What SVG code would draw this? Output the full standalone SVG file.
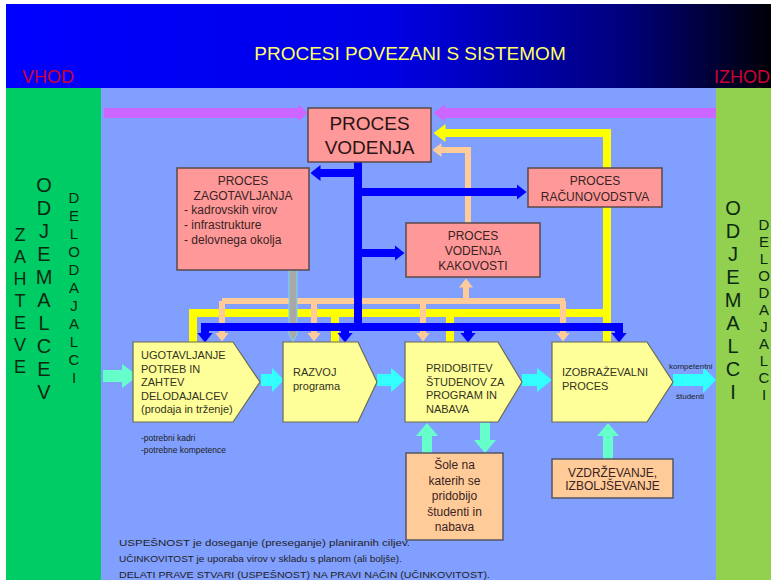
<svg xmlns="http://www.w3.org/2000/svg" width="771" height="580" viewBox="0 0 771 580">
<defs>
<linearGradient id="hdr" x1="0" y1="0" x2="1" y2="0">
<stop offset="0" stop-color="#0000ff"/>
<stop offset="0.5" stop-color="#0000e6"/>
<stop offset="0.8" stop-color="#000080"/>
<stop offset="1" stop-color="#000008"/>
</linearGradient>
<marker id="mB" markerUnits="userSpaceOnUse" viewBox="0 0 10 16" markerWidth="10" markerHeight="16" refX="0.5" refY="8" orient="auto"><path d="M0,0 L10,8 L0,16 z" fill="#0000ff"/></marker>
<marker id="mY" markerUnits="userSpaceOnUse" viewBox="0 0 12 18" markerWidth="12" markerHeight="18" refX="0.5" refY="9" orient="auto"><path d="M0,0 L12,9 L0,18 z" fill="#ffff00"/></marker>
<marker id="mP" markerUnits="userSpaceOnUse" viewBox="0 0 9 14" markerWidth="9" markerHeight="14" refX="0.5" refY="7" orient="auto"><path d="M0,0 L9,7 L0,14 z" fill="#ffcc99"/></marker>
</defs>
<style>
text{font-family:"Liberation Sans",Arial,sans-serif;}
.sal{fill:#ff9999;stroke:#5a4a4a;stroke-width:1.5;}
.yel{fill:#ffff99;stroke:#6a6a50;stroke-width:1.2;}
.pch{fill:#ffcc99;stroke:#555566;stroke-width:1.5;}
.st{fill:#3a2222;font-size:12px;}
.pt{fill:#333322;font-size:11px;}
.side{fill:#0a2a10;text-anchor:middle;}
.lb{fill:none;stroke:#0000ff;stroke-width:8;}
.ly{fill:none;stroke:#ffff00;stroke-width:8;}
.lp{fill:none;stroke:#ffcc99;stroke-width:6;}
.mint{fill:#66ffcc;}
.cyan{fill:#33ffff;}
.pink{fill:#cc66ff;}
.note{fill:#222;font-size:9.5px;}
</style>
<rect x="0" y="0" width="771" height="580" fill="#ffffff"/>
<g id="header">
<rect x="6" y="4" width="765" height="84" fill="url(#hdr)"/>
<text x="410" y="60" font-size="19" fill="#ffff66" text-anchor="middle">PROCESI POVEZANI S SISTEMOM</text>
<text x="22" y="83" font-size="18" fill="#cc0033">VHOD</text>
<text x="714" y="83" font-size="18" fill="#cc0033">IZHOD</text>
</g>
<g id="panels">
<rect x="6" y="88" width="95" height="492" fill="#00cc66"/>
<rect x="101" y="88" width="615" height="492" fill="#809fff"/>
<rect x="716" y="88" width="55" height="492" fill="#92d050"/>
</g>
<g id="left-labels" class="side">
<text class="side" font-size="18"><tspan x="20" y="241">Z</tspan><tspan x="20" y="263">A</tspan><tspan x="20" y="285">H</tspan><tspan x="20" y="307">T</tspan><tspan x="20" y="329">E</tspan><tspan x="20" y="351">V</tspan><tspan x="20" y="373">E</tspan></text>
<text class="side" font-size="20"><tspan x="44" y="192">O</tspan><tspan x="44" y="215">D</tspan><tspan x="44" y="238">J</tspan><tspan x="44" y="261">E</tspan><tspan x="44" y="284">M</tspan><tspan x="44" y="307">A</tspan><tspan x="44" y="330">L</tspan><tspan x="44" y="353">C</tspan><tspan x="44" y="376">E</tspan><tspan x="44" y="399">V</tspan></text>
<text class="side" font-size="15"><tspan x="74" y="203">D</tspan><tspan x="74" y="221">E</tspan><tspan x="74" y="239">L</tspan><tspan x="74" y="257">O</tspan><tspan x="74" y="275">D</tspan><tspan x="74" y="293">A</tspan><tspan x="74" y="311">J</tspan><tspan x="74" y="329">A</tspan><tspan x="74" y="347">L</tspan><tspan x="74" y="365">C</tspan><tspan x="74" y="383">I</tspan></text>
</g>
<g id="right-labels">
<text class="side" font-size="20"><tspan x="733" y="215">O</tspan><tspan x="733" y="238">D</tspan><tspan x="733" y="261">J</tspan><tspan x="733" y="284">E</tspan><tspan x="733" y="307">M</tspan><tspan x="733" y="330">A</tspan><tspan x="733" y="353">L</tspan><tspan x="733" y="376">C</tspan><tspan x="733" y="399">I</tspan></text>
<text class="side" font-size="15"><tspan x="764" y="230">D</tspan><tspan x="764" y="247">E</tspan><tspan x="764" y="264">L</tspan><tspan x="764" y="281">O</tspan><tspan x="764" y="298">D</tspan><tspan x="764" y="315">A</tspan><tspan x="764" y="332">J</tspan><tspan x="764" y="349">A</tspan><tspan x="764" y="366">L</tspan><tspan x="764" y="383">C</tspan><tspan x="764" y="400">I</tspan></text>
</g>
<g id="connectors">
<polygon class="pink" points="104,108 298,108 298,104.5 308,113 298,121.5 298,118 104,118"/>
<polygon class="pink" points="716,108 445,108 445,104.5 433,113 445,121.5 445,118 716,118"/>
<path class="lp" d="M468,223 V150 H441" marker-end="url(#mP)"/>
<path class="ly" d="M193,342 V313 H607 V133 H445" marker-end="url(#mY)"/>
<path class="ly" d="M335,342 V313 M450,342 V313 M607,342 V313"/>
<path class="lp" d="M466,301 V287" marker-end="url(#mP)"/>
<path class="lp" d="M222,301 H565"/>
<path class="lp" d="M222,301 V333" marker-end="url(#mP)"/>
<path class="lp" d="M314,301 V333" marker-end="url(#mP)"/>
<path class="lp" d="M423,301 V333" marker-end="url(#mP)"/>
<path class="lp" d="M563,301 V333" marker-end="url(#mP)"/>
<path d="M289,270 V334 L293,342 L297,334 V270 z" fill="#a8a8a8" stroke="#7fd8e8" stroke-width="1"/>
<path class="lb" d="M358,162 V327"/>
<path class="lb" d="M201,327 H623"/>
<path class="lb" d="M205,327 V333" marker-end="url(#mB)"/>
<path class="lb" d="M345,327 V333" marker-end="url(#mB)"/>
<path class="lb" d="M468,327 V333" marker-end="url(#mB)"/>
<path class="lb" d="M619,327 V333" marker-end="url(#mB)"/>
<path class="lb" d="M362,173 H320" marker-end="url(#mB)"/>
<path class="lb" d="M354,192 H517" marker-end="url(#mB)"/>
<path class="lb" d="M354,253 H395" marker-end="url(#mB)"/>
<polygon class="mint" points="103,370 122,370 122,364 138,376 122,388 122,382 103,382"/>
<polygon class="cyan" points="261,374 272,374 272,368 284,380 272,392 272,386 261,386"/>
<polygon class="cyan" points="377,374 391,374 391,368 405,380 391,392 391,386 377,386"/>
<polygon class="cyan" points="522,374 537,374 537,368 552,380 537,392 537,386 522,386"/>
<polygon class="cyan" points="673,374 703,374 703,367 716,380 703,393 703,386 673,386"/>
<polygon class="mint" points="422,453 422,436 416,436 427,423 438,436 432,436 432,453"/>
<polygon class="mint" points="480,423 480,440 474,440 485,453 496,440 490,440 490,423"/>
<polygon class="mint" points="603,459 603,436 597,436 608,423 619,436 613,436 613,459"/>
</g>
<g id="proces-vodenja">
<rect class="sal" x="308" y="108" width="123" height="54"/>
<text x="369.5" y="130" font-size="19" fill="#2a1414" text-anchor="middle">PROCES</text>
<text x="369.5" y="154" font-size="19" fill="#2a1414" text-anchor="middle">VODENJA</text>
</g>
<g id="proces-zagotavljanja">
<rect class="sal" x="177" y="168" width="132" height="102"/>
<text class="st" x="243" y="184.5" text-anchor="middle">PROCES</text>
<text class="st" x="243" y="199.5" text-anchor="middle">ZAGOTAVLJANJA</text>
<text class="st" x="184" y="214">- kadrovskih virov</text>
<text class="st" x="184" y="229">- infrastrukture</text>
<text class="st" x="184" y="244">- delovnega okolja</text>
</g>
<g id="proces-racunovodstva">
<rect class="sal" x="528" y="168" width="134" height="39"/>
<text class="st" x="595" y="184.5" text-anchor="middle">PROCES</text>
<text class="st" x="595" y="200.5" text-anchor="middle">RAČUNOVODSTVA</text>
</g>
<g id="proces-kakovosti">
<rect class="sal" x="406" y="223" width="134" height="54"/>
<text class="st" x="473" y="240" text-anchor="middle">PROCES</text>
<text class="st" x="473" y="255" text-anchor="middle">VODENJA</text>
<text class="st" x="473" y="270" text-anchor="middle">KAKOVOSTI</text>
</g>
<g id="ugotavljanje">
<polygon class="yel" points="133,342 233,342 260,382 233,422 133,422"/>
<text class="pt" x="141" y="359">UGOTAVLJANJE</text>
<text class="pt" x="141" y="372.5">POTREB IN</text>
<text class="pt" x="141" y="386">ZAHTEV</text>
<text class="pt" x="141" y="399.5">DELODAJALCEV</text>
<text class="pt" x="141" y="413">(prodaja in trženje)</text>
<text x="141" y="441" font-size="8.5" fill="#222">-potrebni kadri</text>
<text x="141" y="453" font-size="8.5" fill="#222">-potrebne kompetence</text>
</g>
<g id="razvoj">
<polygon class="yel" points="283,342 358,342 377,382 358,422 283,422"/>
<text class="pt" x="293" y="376">RAZVOJ</text>
<text class="pt" x="293" y="390">programa</text>
</g>
<g id="pridobitev">
<polygon class="yel" points="405,342 498,342 522,382 498,422 405,422"/>
<text class="pt" x="426" y="372">PRIDOBITEV</text>
<text class="pt" x="426" y="385.5">ŠTUDENOV ZA</text>
<text class="pt" x="426" y="399">PROGRAM IN</text>
<text class="pt" x="426" y="412.5">NABAVA</text>
</g>
<g id="izobrazevalni">
<polygon class="yel" points="552,342 647,342 673,382 647,422 552,422"/>
<text class="pt" x="562" y="376">IZOBRAŽEVALNI</text>
<text class="pt" x="562" y="390">PROCES</text>
<text x="669" y="369" font-size="8" fill="#222">kompetentni</text>
<text x="676" y="399" font-size="8" fill="#222">študenti</text>
</g>
<g id="sole">
<rect class="pch" x="406" y="453" width="97" height="87"/>
<text class="st" x="454.5" y="469" text-anchor="middle">Šole na</text>
<text class="st" x="454.5" y="484.5" text-anchor="middle">katerih se</text>
<text class="st" x="454.5" y="500" text-anchor="middle">pridobijo</text>
<text class="st" x="454.5" y="515.5" text-anchor="middle">študenti in</text>
<text class="st" x="454.5" y="531" text-anchor="middle">nabava</text>
</g>
<g id="vzdrzevanje">
<rect class="pch" x="552" y="459" width="121" height="39"/>
<text class="st" x="612.5" y="476.5" text-anchor="middle">VZDRŽEVANJE,</text>
<text class="st" x="612.5" y="490" text-anchor="middle">IZBOLJŠEVANJE</text>
</g>
<g id="notes">
<text class="note" x="119" y="546" textLength="291" lengthAdjust="spacingAndGlyphs">USPEŠNOST je doseganje (preseganje) planiranih ciljev.</text>
<text class="note" x="119" y="562" textLength="283" lengthAdjust="spacingAndGlyphs">UČINKOVITOST je uporaba virov v skladu s planom (ali boljše).</text>
<text class="note" x="119" y="578" textLength="371" lengthAdjust="spacingAndGlyphs">DELATI PRAVE STVARI (USPEŠNOST) NA PRAVI NAČIN (UČINKOVITOST).</text>
</g>
</svg>
